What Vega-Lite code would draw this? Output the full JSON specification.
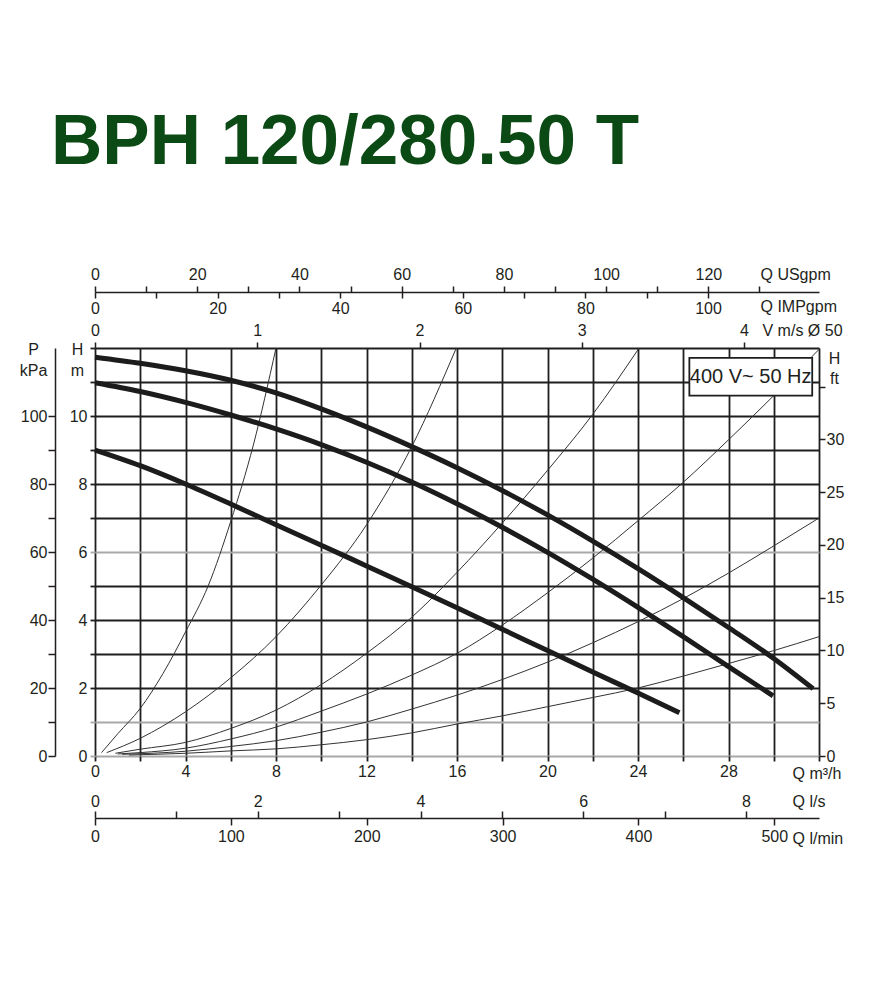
{
  "$schema": "https://vega.github.io/schema/vega-lite/v6.json",
  "autosize": {"type": "none"},
  "width": 724,
  "height": 408,
  "padding": {"left": 95, "top": 348, "right": 66, "bottom": 244},
  "background": "white",
  "title": {
    "text": "BPH 120/280.50 T",
    "anchor": "start",
    "frame": "group",
    "orient": "top",
    "font": "Liberation Sans",
    "fontSize": 71,
    "fontWeight": "bold",
    "color": "#0b4a14",
    "baseline": "alphabetic",
    "offset": 31,
    "dx": -44
  },
  "config": {
    "view": {"stroke": null},
    "axis": {
      "labelFont": "Liberation Sans",
      "labelFontSize": 16,
      "labelColor": "#231f20",
      "titleFont": "Liberation Sans",
      "titleFontSize": 16,
      "titleFontWeight": "normal",
      "titleColor": "#231f20",
      "tickColor": "#231f20",
      "domainColor": "#231f20",
      "tickWidth": 1.5,
      "domainWidth": 1.5,
      "labelFlush": false,
      "labelOverlap": false,
      "grid": false,
      "titleAngle": 0
    }
  },
  "datasets": {
    "pump": [
      {"c": "p1", "Q": 0, "H": 11.73}, {"c": "p1", "Q": 2, "H": 11.55}, {"c": "p1", "Q": 4, "H": 11.33}, {"c": "p1", "Q": 6, "H": 11.05},
      {"c": "p1", "Q": 8, "H": 10.68}, {"c": "p1", "Q": 10, "H": 10.21}, {"c": "p1", "Q": 12, "H": 9.68}, {"c": "p1", "Q": 14, "H": 9.1},
      {"c": "p1", "Q": 16, "H": 8.48}, {"c": "p1", "Q": 18, "H": 7.81}, {"c": "p1", "Q": 20, "H": 7.09}, {"c": "p1", "Q": 22, "H": 6.32},
      {"c": "p1", "Q": 24, "H": 5.51}, {"c": "p1", "Q": 26, "H": 4.66}, {"c": "p1", "Q": 28, "H": 3.78}, {"c": "p1", "Q": 30, "H": 2.87},
      {"c": "p1", "Q": 31.74, "H": 1.98},
      {"c": "p2", "Q": 0, "H": 10.98}, {"c": "p2", "Q": 2, "H": 10.72}, {"c": "p2", "Q": 4, "H": 10.4}, {"c": "p2", "Q": 6, "H": 10.03},
      {"c": "p2", "Q": 8, "H": 9.62}, {"c": "p2", "Q": 10, "H": 9.16}, {"c": "p2", "Q": 12, "H": 8.64}, {"c": "p2", "Q": 14, "H": 8.06},
      {"c": "p2", "Q": 16, "H": 7.42}, {"c": "p2", "Q": 18, "H": 6.73}, {"c": "p2", "Q": 20, "H": 5.99}, {"c": "p2", "Q": 22, "H": 5.2},
      {"c": "p2", "Q": 24, "H": 4.37}, {"c": "p2", "Q": 26, "H": 3.51}, {"c": "p2", "Q": 28, "H": 2.63}, {"c": "p2", "Q": 29.97, "H": 1.77},
      {"c": "p3", "Q": 0, "H": 9.0}, {"c": "p3", "Q": 2, "H": 8.54}, {"c": "p3", "Q": 4, "H": 8.0}, {"c": "p3", "Q": 6, "H": 7.41},
      {"c": "p3", "Q": 8, "H": 6.8}, {"c": "p3", "Q": 10, "H": 6.2}, {"c": "p3", "Q": 12, "H": 5.59}, {"c": "p3", "Q": 14, "H": 4.98},
      {"c": "p3", "Q": 16, "H": 4.36}, {"c": "p3", "Q": 18, "H": 3.73}, {"c": "p3", "Q": 20, "H": 3.1}, {"c": "p3", "Q": 22, "H": 2.47},
      {"c": "p3", "Q": 24, "H": 1.85}, {"c": "p3", "Q": 25.83, "H": 1.27}
    ],
    "system": [
      {"c": "A", "Q": 0.29, "H": 0.1}, {"c": "A", "Q": 1, "H": 0.65}, {"c": "A", "Q": 2, "H": 1.4}, {"c": "A", "Q": 3, "H": 2.42},
      {"c": "A", "Q": 4, "H": 3.65}, {"c": "A", "Q": 5, "H": 5.0}, {"c": "A", "Q": 6, "H": 6.9}, {"c": "A", "Q": 7, "H": 9.15}, {"c": "A", "Q": 8, "H": 12.0},
      {"c": "B", "Q": 0.52, "H": 0.1}, {"c": "B", "Q": 2, "H": 0.52}, {"c": "B", "Q": 4, "H": 1.3}, {"c": "B", "Q": 6, "H": 2.3},
      {"c": "B", "Q": 8, "H": 3.51}, {"c": "B", "Q": 10, "H": 5.03}, {"c": "B", "Q": 12, "H": 6.8}, {"c": "B", "Q": 14, "H": 9.1}, {"c": "B", "Q": 15.97, "H": 12.0},
      {"c": "C", "Q": 0.9, "H": 0.08}, {"c": "C", "Q": 2, "H": 0.2}, {"c": "C", "Q": 4, "H": 0.4}, {"c": "C", "Q": 6, "H": 0.81},
      {"c": "C", "Q": 8, "H": 1.35}, {"c": "C", "Q": 10, "H": 2.1}, {"c": "C", "Q": 12, "H": 3.02}, {"c": "C", "Q": 14, "H": 4.08},
      {"c": "C", "Q": 16, "H": 5.4}, {"c": "C", "Q": 18, "H": 6.85}, {"c": "C", "Q": 20, "H": 8.4}, {"c": "C", "Q": 22, "H": 10.05}, {"c": "C", "Q": 24.05, "H": 12.0},
      {"c": "D", "Q": 1.0, "H": 0.06}, {"c": "D", "Q": 2, "H": 0.1}, {"c": "D", "Q": 4, "H": 0.23}, {"c": "D", "Q": 6, "H": 0.5},
      {"c": "D", "Q": 8, "H": 0.85}, {"c": "D", "Q": 10, "H": 1.32}, {"c": "D", "Q": 12, "H": 1.82}, {"c": "D", "Q": 14, "H": 2.38},
      {"c": "D", "Q": 16, "H": 3.02}, {"c": "D", "Q": 18, "H": 3.85}, {"c": "D", "Q": 20, "H": 4.8}, {"c": "D", "Q": 22, "H": 5.82},
      {"c": "D", "Q": 24, "H": 6.92}, {"c": "D", "Q": 26, "H": 8.05}, {"c": "D", "Q": 28, "H": 9.3}, {"c": "D", "Q": 30, "H": 10.6}, {"c": "D", "Q": 32, "H": 11.96},
      {"c": "E", "Q": 1.2, "H": 0.05}, {"c": "E", "Q": 4, "H": 0.14}, {"c": "E", "Q": 6, "H": 0.28}, {"c": "E", "Q": 8, "H": 0.45},
      {"c": "E", "Q": 10, "H": 0.7}, {"c": "E", "Q": 12, "H": 1.0}, {"c": "E", "Q": 14, "H": 1.38}, {"c": "E", "Q": 16, "H": 1.79},
      {"c": "E", "Q": 18, "H": 2.25}, {"c": "E", "Q": 20, "H": 2.76}, {"c": "E", "Q": 22, "H": 3.33}, {"c": "E", "Q": 24, "H": 3.95},
      {"c": "E", "Q": 26, "H": 4.63}, {"c": "E", "Q": 28, "H": 5.38}, {"c": "E", "Q": 30, "H": 6.18}, {"c": "E", "Q": 32, "H": 7.0},
      {"c": "F", "Q": 1.5, "H": 0.03}, {"c": "F", "Q": 4, "H": 0.08}, {"c": "F", "Q": 6, "H": 0.15}, {"c": "F", "Q": 8, "H": 0.21},
      {"c": "F", "Q": 10, "H": 0.33}, {"c": "F", "Q": 12, "H": 0.48}, {"c": "F", "Q": 14, "H": 0.68}, {"c": "F", "Q": 16, "H": 0.94},
      {"c": "F", "Q": 18, "H": 1.18}, {"c": "F", "Q": 20, "H": 1.45}, {"c": "F", "Q": 22, "H": 1.72}, {"c": "F", "Q": 24, "H": 2.0},
      {"c": "F", "Q": 26, "H": 2.35}, {"c": "F", "Q": 28, "H": 2.72}, {"c": "F", "Q": 30, "H": 3.1}, {"c": "F", "Q": 32, "H": 3.51}
    ],
    "note": [
      {"label": "400 V~ 50 Hz"}
    ]
  },
  "resolve": {
    "scale": {"x": "independent", "y": "independent"},
    "axis": {"x": "independent", "y": "independent"}
  },
  "layer": [
    {
      "data": {"name": "system"},
      "mark": {"type": "line", "interpolate": "monotone", "strokeWidth": 1, "color": "#333333", "clip": true},
      "encoding": {
        "x": {"field": "Q", "type": "quantitative", "scale": {"domain": [0, 32], "nice": false, "zero": false}, "axis": null},
        "y": {"field": "H", "type": "quantitative", "scale": {"domain": [0, 12], "nice": false, "zero": false}, "axis": null},
        "detail": {"field": "c", "type": "nominal"}
      }
    },
    {
      "data": {"name": "pump"},
      "mark": {"type": "line", "interpolate": "monotone", "strokeWidth": 5, "color": "#1c1c1c", "strokeCap": "butt"},
      "encoding": {
        "x": {
          "field": "Q", "type": "quantitative",
          "scale": {"domain": [0, 32], "nice": false, "zero": false},
          "axis": {
            "orient": "bottom",
            "values": [0, 2, 4, 6, 8, 10, 12, 14, 16, 18, 20, 22, 24, 26, 28, 30, 32],
            "labelExpr": "datum.value % 4 == 0 && datum.value < 32 ? datum.label : ''",
            "grid": true, "gridColor": "#1e1e1e", "gridWidth": 1.8,
            "tickSize": 5, "tickColor": "#1e1e1e", "tickWidth": 1.8,
            "domain": false, "labelPadding": 2,
            "title": "Q m³/h", "titleX": 697, "titleY": 17, "titleAlign": "left", "titleBaseline": "middle"
          }
        },
        "y": {
          "field": "H", "type": "quantitative",
          "scale": {"domain": [0, 12], "nice": false, "zero": false},
          "axis": {
            "orient": "left",
            "values": [0, 1, 2, 3, 4, 5, 6, 7, 8, 9, 10, 11, 12],
            "labelExpr": "datum.value % 2 == 0 && datum.value < 12 ? datum.label : ''",
            "grid": true,
            "gridColor": {"condition": {"test": "datum.value == 0 || datum.value == 1 || datum.value == 6", "value": "#a8a8a8"}, "value": "#1e1e1e"},
            "gridWidth": 1.8,
            "tickSize": 5,
            "tickColor": {"condition": {"test": "datum.value == 0 || datum.value == 1 || datum.value == 6", "value": "#a8a8a8"}, "value": "#1e1e1e"},
            "tickWidth": 1.8,
            "domain": false, "labelPadding": 3,
            "title": ["H", "m"], "titleX": -18, "titleY": -7, "titleAlign": "center", "titleBaseline": "top", "titleLineHeight": 21
          }
        },
        "detail": {"field": "c", "type": "nominal"}
      }
    },
    {
      "data": {"name": "note"},
      "mark": {"type": "rect", "fill": "white", "stroke": "#1e1e1e", "strokeWidth": 1.8},
      "encoding": {
        "x": {"datum": 26.27, "type": "quantitative", "scale": {"domain": [0, 32], "nice": false, "zero": false}, "axis": null},
        "x2": {"datum": 31.7},
        "y": {"datum": 10.6, "type": "quantitative", "scale": {"domain": [0, 12], "nice": false, "zero": false}, "axis": null},
        "y2": {"datum": 11.71}
      }
    },
    {
      "data": {"name": "note"},
      "mark": {"type": "text", "font": "Liberation Sans", "fontSize": 20, "color": "#231f20", "align": "center", "baseline": "middle"},
      "encoding": {
        "x": {"datum": 28.98, "type": "quantitative", "scale": {"domain": [0, 32], "nice": false, "zero": false}, "axis": null},
        "y": {"datum": 11.16, "type": "quantitative", "scale": {"domain": [0, 12], "nice": false, "zero": false}, "axis": null},
        "text": {"field": "label", "type": "nominal"}
      }
    },
    {
      "data": {"values": []},
      "mark": "point",
      "encoding": {
        "x": {
          "field": "usgpm", "type": "quantitative",
          "scale": {"domain": [0, 141.65], "nice": false, "zero": false},
          "axis": {
            "orient": "top", "offset": 56,
            "values": [0, 10, 20, 30, 40, 50, 60, 70, 80, 90, 100, 110, 120, 130],
            "labelExpr": "datum.value % 20 == 0 ? datum.label : ''",
            "tickSize": 6, "domain": true, "labelPadding": 4,
            "title": "Q USgpm", "titleX": 665, "titleY": -18, "titleAlign": "left", "titleBaseline": "middle"
          }
        }
      }
    },
    {
      "data": {"values": []},
      "mark": "point",
      "encoding": {
        "x": {
          "field": "impgpm", "type": "quantitative",
          "scale": {"domain": [0, 118.1], "nice": false, "zero": false},
          "axis": {
            "orient": "bottom", "offset": -464,
            "values": [0, 10, 20, 30, 40, 50, 60, 70, 80, 90, 100],
            "labelExpr": "datum.value % 20 == 0 ? datum.label : ''",
            "tickSize": 6, "domain": false, "labelPadding": 2,
            "title": "Q IMPgpm", "titleX": 665, "titleY": 14, "titleAlign": "left", "titleBaseline": "middle"
          }
        }
      }
    },
    {
      "data": {"values": []},
      "mark": "point",
      "encoding": {
        "x": {
          "field": "v", "type": "quantitative",
          "scale": {"domain": [0, 4.462], "nice": false, "zero": false},
          "axis": {
            "orient": "top", "offset": 0,
            "values": [0, 1, 2, 3, 4],
            "tickSize": 6, "domain": false, "labelPadding": 4,
            "title": "V m/s Ø 50", "titleX": 667, "titleY": -18, "titleAlign": "left", "titleBaseline": "middle"
          }
        }
      }
    },
    {
      "data": {"values": []},
      "mark": "point",
      "encoding": {
        "x": {
          "field": "ls", "type": "quantitative",
          "scale": {"domain": [0, 8.897], "nice": false, "zero": false},
          "axis": {
            "orient": "top", "offset": -470,
            "values": [0, 1, 2, 3, 4, 5, 6, 7, 8],
            "labelExpr": "datum.value % 2 == 0 ? datum.label : ''",
            "tickSize": 7, "domain": true, "labelPadding": 2,
            "title": "Q l/s", "titleX": 697, "titleY": -17, "titleAlign": "left", "titleBaseline": "middle"
          }
        }
      }
    },
    {
      "data": {"values": []},
      "mark": "point",
      "encoding": {
        "x": {
          "field": "lmin", "type": "quantitative",
          "scale": {"domain": [0, 532.9], "nice": false, "zero": false},
          "axis": {
            "orient": "bottom", "offset": 62,
            "values": [0, 100, 200, 300, 400, 500],
            "tickSize": 7, "domain": false, "labelPadding": 3,
            "title": "Q l/min", "titleX": 697, "titleY": 20, "titleAlign": "left", "titleBaseline": "middle"
          }
        }
      }
    },
    {
      "data": {"values": []},
      "mark": "point",
      "encoding": {
        "y": {
          "field": "kpa", "type": "quantitative",
          "scale": {"domain": [0, 120], "nice": false, "zero": false},
          "axis": {
            "orient": "left", "offset": 40,
            "values": [0, 10, 20, 30, 40, 50, 60, 70, 80, 90, 100],
            "labelExpr": "datum.value % 20 == 0 ? datum.label : ''",
            "tickSize": 7, "domain": true, "labelPadding": 1,
            "title": ["P", "kPa"], "titleX": -22, "titleY": -7, "titleAlign": "center", "titleBaseline": "top", "titleLineHeight": 21
          }
        }
      }
    },
    {
      "data": {"values": []},
      "mark": "point",
      "encoding": {
        "y": {
          "field": "ft", "type": "quantitative",
          "scale": {"domain": [0, 38.67], "nice": false, "zero": false},
          "axis": {
            "orient": "right", "offset": 0,
            "values": [0, 5, 10, 15, 20, 25, 30, 35],
            "labelExpr": "datum.value < 35 ? datum.label : ''",
            "tickSize": 6, "domain": false, "labelPadding": 1,
            "title": ["H", "ft"], "titleX": 15, "titleY": 2, "titleAlign": "center", "titleBaseline": "top", "titleLineHeight": 20
          }
        }
      }
    }
  ]
}
